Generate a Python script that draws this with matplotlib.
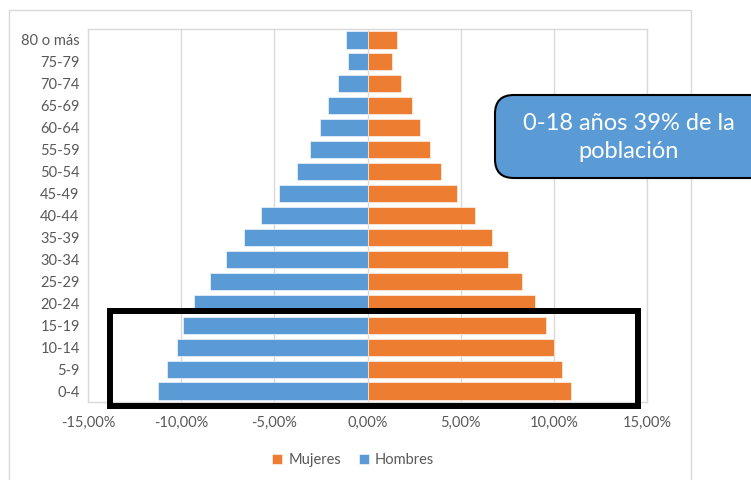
import matplotlib.pyplot as plt
from matplotlib.patches import Rectangle, FancyBboxPatch
from matplotlib.ticker import FuncFormatter

# age groups, youngest first (bottom of the pyramid)
grupos = ["0-4", "5-9", "10-14", "15-19", "20-24", "25-29", "30-34", "35-39",
          "40-44", "45-49", "50-54", "55-59", "60-64", "65-69", "70-74",
          "75-79", "80 o más"]
hombres = [11.25, 10.74, 10.23, 9.91, 9.30, 8.46, 7.60, 6.65,
           5.74, 4.73, 3.80, 3.10, 2.54, 2.11, 1.58, 1.06, 1.13]
mujeres = [10.91, 10.45, 10.00, 9.57, 9.01, 8.28, 7.54, 6.67,
           5.77, 4.80, 3.94, 3.33, 2.81, 2.37, 1.79, 1.34, 1.58]
ticks_x = [-15, -10, -5, 0, 5, 10, 15]

azul = "#5B9BD5"
naranja = "#ED7D31"
gris = "#595959"

plt.rcParams['font.family'] = ['Lato', 'DejaVu Sans']

W, H = 751, 480
fig = plt.figure(figsize=(W / 100, H / 100), dpi=100)
ax = fig.add_axes([88 / W, 1 - 402 / H, (647 - 88) / W, (402 - 29) / H])

y = range(len(grupos))
ax.barh(y, [-v for v in hombres], height=0.78, color=azul,
        edgecolor="white", linewidth=0.4, label="Hombres", zorder=3)
ax.barh(y, mujeres, height=0.78, color=naranja,
        edgecolor="white", linewidth=0.4, label="Mujeres", zorder=3)

ax.set_xlim(-15, 15)
ax.set_ylim(-0.5, len(grupos) - 0.5)
ax.set_xticks(ticks_x)
ax.xaxis.set_major_formatter(
    FuncFormatter(lambda v, p: ("%.2f%%" % v).replace(".", ",")))
ax.set_yticks(list(y))
ax.set_yticklabels(grupos)
ax.tick_params(length=0, labelsize=10.5, colors=gris, pad=6)
ax.tick_params(axis="x", pad=10)
ax.grid(axis="x", color="#D9D9D9", linewidth=1, zorder=0)
for s in ax.spines.values():
    s.set_color("#D9D9D9")
    s.set_linewidth(1)

# chart frame
fig.add_artist(Rectangle((9 / W, -0.1), (691 - 9) / W, 1.1 - 10 / H,
                         transform=fig.transFigure, fill=False,
                         edgecolor="#D9D9D9", linewidth=1))

# highlight the 0-19 rows
fig.add_artist(Rectangle((110 / W, 1 - 405.5 / H), (638 - 110) / W,
                         (405.5 - 311) / H, transform=fig.transFigure,
                         fill=False, edgecolor="black", linewidth=4.3,
                         zorder=5))

# callout
fig.add_artist(FancyBboxPatch((495 / W, 1 - 178 / H), 300 / W, 83 / H,
                              boxstyle="round,pad=0,rounding_size=0.025",
                              transform=fig.transFigure, facecolor=azul,
                              edgecolor="black", linewidth=1.5, zorder=6,
                              mutation_aspect=W / H))
fig.text(629 / W, 1 - 137.5 / H, "0-18 años 39% de la\npoblación",
         ha="center", va="center", multialignment="center", color="white",
         fontsize=17, linespacing=1.4, zorder=7)

fig.legend(handles=ax.get_legend_handles_labels()[0][::-1],
           labels=["Mujeres", "Hombres"], loc="center",
           bbox_to_anchor=(353 / W, 1 - 460 / H), ncol=2, frameon=False,
           handlelength=0.7, handleheight=0.7, handletextpad=0.4,
           columnspacing=1.2, fontsize=10.5, labelcolor=gris)

fig.savefig("out.png", dpi=100)
